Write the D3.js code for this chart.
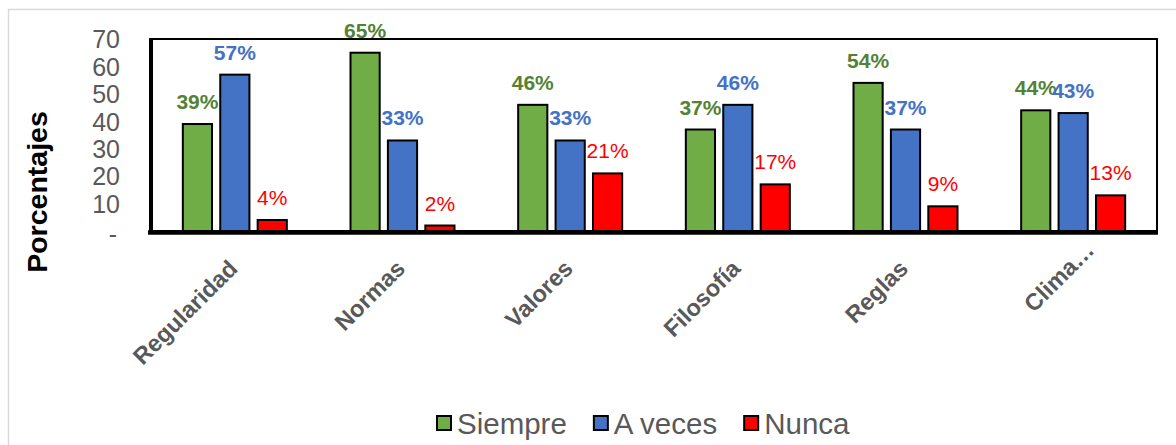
<!DOCTYPE html>
<html>
<head>
<meta charset="utf-8">
<script src="https://cdn.jsdelivr.net/npm/d3@7"></script>
<style>
  html, body { margin: 0; padding: 0; background: #fff; }
  svg { display: block; font-family: "Liberation Sans", Arial, sans-serif; }
</style>
</head>
<body>
<svg id="chart" width="1176" height="445"></svg>
<script>
const categories = ["Regularidad", "Normas", "Valores", "Filosofía", "Reglas", "Clima…"];
const seriesNames = ["Siempre", "A veces", "Nunca"];
const siempre = [39, 65, 46, 37, 54, 44];
const aVeces = [57, 33, 33, 46, 37, 43];
const nunca = [4, 2, 21, 17, 9, 13];
const yTicks = [0, 10, 20, 30, 40, 50, 60, 70];
const yTitle = "Porcentajes";

(function () {
const seriesValues = [siempre, aVeces, nunca];
const fills = ["#70AD47", "#4472C4", "#FF0000"];
const labelColors = ["#548235", "#4472C4", "#FF0000"];
const labelWeights = ["bold", "bold", "normal"];

const svg = d3.select("#chart");

// outer chart border
svg.append("rect").attr("x", 8.5).attr("y", 9.5).attr("width", 1180).attr("height", 450)
  .attr("fill", "none").attr("stroke", "#d9d9d9").attr("stroke-width", 1.5);

const pLeft = 151, pRight = 1157, pTop = 39, pBottom = 231;

const x = d3.scaleBand().domain(categories).range([pLeft, pRight]).paddingInner(0).paddingOuter(0);
const xs = d3.scaleBand().domain(seriesNames).range([-52, 52]).paddingInner(0.22).paddingOuter(0);
const y = d3.scaleLinear().domain([0, 70]).range([pBottom, pTop]);

// plot frame
svg.append("rect").attr("x", pLeft).attr("y", y(70)).attr("width", pRight - pLeft).attr("height", pBottom - y(70))
  .attr("fill", "none").attr("stroke", "#000").attr("stroke-width", 2);

// bars
const rows = [];
categories.forEach((c, i) => {
  seriesNames.forEach((s, j) => rows.push({c, s, j, v: seriesValues[j][i]}));
});

const g = svg.append("g");
g.selectAll("rect.bar").data(rows).join("rect")
  .attr("class", "bar")
  .attr("x", d => x(d.c) + x.bandwidth() / 2 + xs(d.s))
  .attr("y", d => y(d.v))
  .attr("width", xs.bandwidth())
  .attr("height", d => y(0) - y(d.v))
  .attr("fill", d => fills[d.j])
  .attr("stroke", "#000").attr("stroke-width", 2);

// data labels
g.selectAll("text.lbl").data(rows).join("text")
  .attr("class", "lbl")
  .attr("x", d => x(d.c) + x.bandwidth() / 2 + xs(d.s) + xs.bandwidth() / 2)
  .attr("y", d => y(d.v) - 15)
  .attr("text-anchor", "middle")
  .attr("font-size", 21)
  .attr("font-weight", d => labelWeights[d.j])
  .attr("fill", d => labelColors[d.j])
  .text(d => d.v + "%");

// axes lines (thick)
svg.append("line").attr("x1", pLeft).attr("x2", pLeft).attr("y1", y(70) - 1).attr("y2", pBottom + 3)
  .attr("stroke", "#000").attr("stroke-width", 4);
svg.append("line").attr("x1", pLeft - 3).attr("x2", pRight + 1).attr("y1", pBottom + 1.5).attr("y2", pBottom + 1.5)
  .attr("stroke", "#000").attr("stroke-width", 4.5);

// y axis tick labels
const yAxis = d3.axisLeft(y).tickValues(yTicks).tickSize(0).tickPadding(0)
  .tickFormat(d => d === 0 ? "-" : d3.format("d")(d));
const ya = svg.append("g").attr("transform", `translate(${pLeft - 31},0)`).call(yAxis);
ya.select(".domain").remove();
ya.selectAll("text").attr("font-size", 25).attr("fill", "#595959")
  .attr("font-family", "'Liberation Sans', Arial, sans-serif")
  .attr("dy", "0.35em");
ya.selectAll(".tick").filter(d => d === 0).select("text").attr("dx", "-3").attr("dy", "0.45em");

// y title
svg.append("text")
  .attr("transform", `translate(47,192) rotate(-90)`)
  .attr("text-anchor", "middle")
  .attr("font-size", 28.5).attr("font-weight", "bold").attr("fill", "#000")
  .text(yTitle);

// x axis labels
const xAxis = d3.axisBottom(x).tickSize(0).tickPadding(0);
const xa = svg.append("g").attr("transform", `translate(0,${pBottom})`).call(xAxis);
xa.select(".domain").remove();
xa.selectAll("text")
  .attr("font-size", 23.5).attr("font-weight", "bold").attr("fill", "#595959")
  .attr("font-family", "'Liberation Sans', Arial, sans-serif")
  .attr("text-anchor", "end")
  .attr("x", d => String(d).endsWith("…") ? 26 : 0).attr("y", 0).attr("dy", 0)
  .attr("transform", "translate(4,39) rotate(-45)");

// legend
const legend = svg.append("g").attr("transform", "translate(436,0)");
let lx = 0;
seriesNames.forEach((s, j) => {
  const item = legend.append("g").attr("transform", `translate(${lx},0)`);
  item.append("rect").attr("x", 1).attr("y", 416).attr("width", 14).attr("height", 14)
    .attr("fill", fills[j]).attr("stroke", "#000").attr("stroke-width", 2);
  const t = item.append("text").attr("x", 21).attr("y", 434)
    .attr("font-size", 29.5).attr("fill", "#595959").text(s);
  const w = t.node().getComputedTextLength();
  lx += 21 + w + 26;
});
})();
</script>
</body>
</html>
